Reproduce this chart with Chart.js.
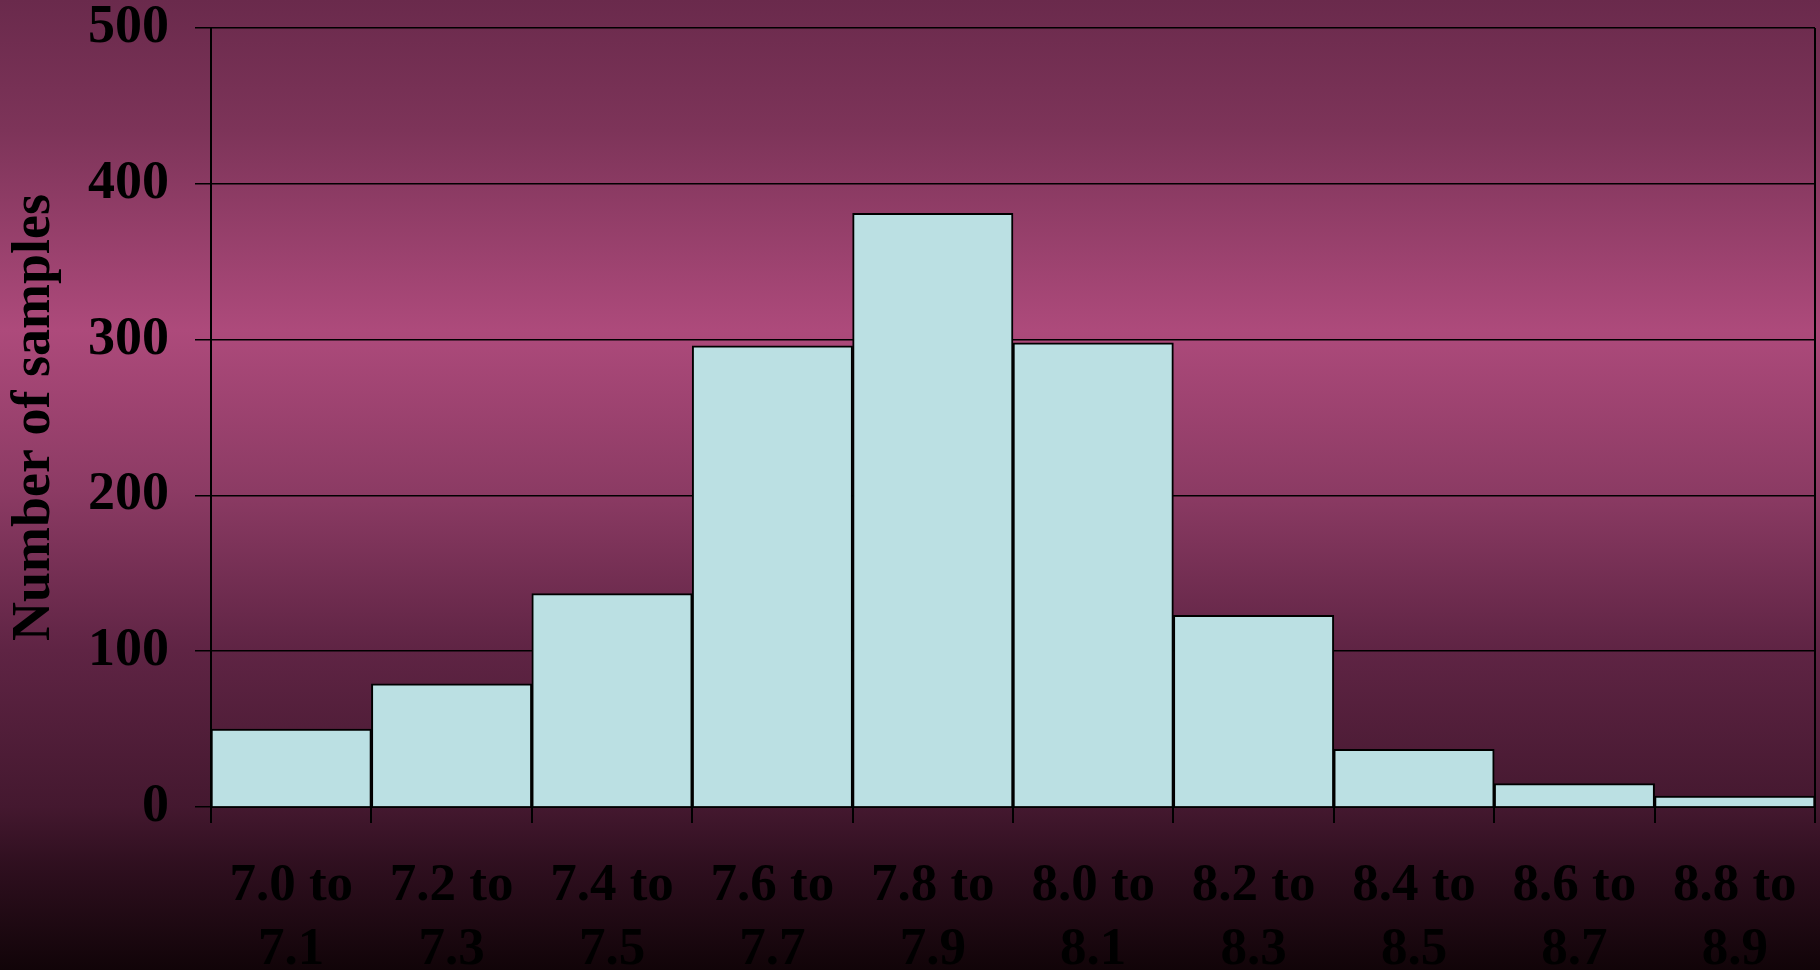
<!DOCTYPE html>
<html>
<head>
<meta charset="utf-8">
<script src="https://cdn.jsdelivr.net/npm/chart.js@4/dist/chart.umd.min.js"></script>
<style>
  html, body {
    margin: 0;
    padding: 0;
    width: 1820px;
    height: 970px;
    overflow: hidden;
    background: linear-gradient(to bottom,
      #6a2a4c 0px,
      #7d3459 130px,
      #ad4a7b 330px,
      #8c3b64 490px,
      #5f2444 650px,
      #44182f 807px,
      #2f0f1f 865px,
      #110408 970px);
  }
  #c { display: block; }
</style>
</head>
<body>
<canvas id="c" width="1820" height="970"></canvas>
<script>
// pH class ranges (two-line labels) and sample counts per class
const categories = [
  ["7.0 to", "7.1"],
  ["7.2 to", "7.3"],
  ["7.4 to", "7.5"],
  ["7.6 to", "7.7"],
  ["7.8 to", "7.9"],
  ["8.0 to", "8.1"],
  ["8.2 to", "8.3"],
  ["8.4 to", "8.5"],
  ["8.6 to", "8.7"],
  ["8.8 to", "8.9"]
];
const sampleCounts = [50, 79, 137, 296, 381, 298, 123, 37, 15, 7];
const yMin = 0;
const yMax = 500;
const yStep = 100;

const serif = "'Liberation Serif', 'Times New Roman', serif";

new Chart(document.getElementById('c'), {
  type: 'bar',
  data: {
    labels: categories,
    datasets: [{
      data: sampleCounts,
      backgroundColor: '#bbe0e3',
      borderColor: '#000000',
      borderWidth: 2,
      barPercentage: 1,
      categoryPercentage: 1
    }]
  },
  options: {
    responsive: false,
    devicePixelRatio: 1,
    animation: false,
    layout: { padding: { top: 28, right: 5, left: 0, bottom: 0 } },
    plugins: {
      legend: { display: false },
      tooltip: { enabled: false }
    },
    scales: {
      x: {
        type: 'category',
        offset: true,
        afterFit: (scale) => {
          scale.height = 163;
          scale.paddingLeft = 0;
          scale.paddingRight = 0;
        },
        grid: {
          offset: true,
          drawOnChartArea: true,
          // only the closing line on the right edge runs up through the plot
          color: (ctx) => (ctx.type === 'tick' ? 'rgba(0,0,0,0)' : '#000000'),
          tickColor: '#000000',
          lineWidth: 2,
          tickLength: 16
        },
        border: { display: true, color: '#000000', width: 2 },
        ticks: {
          color: '#000000',
          autoSkip: false,
          maxRotation: 0,
          minRotation: 0,
          padding: 32,
          font: { family: serif, size: 53, weight: 'bold', lineHeight: 1.2 }
        }
      },
      y: {
        min: yMin,
        max: yMax,
        afterFit: (scale) => {
          scale.width = 211;
          scale.paddingTop = 0;
          scale.paddingBottom = 0;
        },
        grid: {
          color: '#000000',
          tickColor: '#000000',
          lineWidth: 1.5,
          tickLength: 16
        },
        border: { display: true, color: '#000000', width: 2 },
        ticks: {
          stepSize: yStep,
          color: '#000000',
          padding: 26,
          font: { family: serif, size: 54, weight: 'bold', lineHeight: 1 }
        },
        title: {
          display: true,
          text: 'Number of samples',
          color: '#000000',
          padding: { top: 3, bottom: 0 },
          font: { family: serif, size: 54, weight: 'bold', lineHeight: 1.2 }
        }
      }
    }
  }
});
</script>
</body>
</html>
